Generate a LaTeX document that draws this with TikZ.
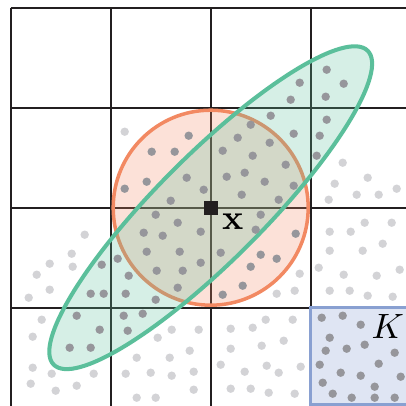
\documentclass[tikz,border=0pt]{standalone}
\usepackage{amsmath,amssymb}
\usepackage{xcolor}
\usepackage{tikz}
\definecolor{gridblack}{RGB}{35,31,32}
\definecolor{softorange}{RGB}{242,137,98}
\definecolor{softgreen}{RGB}{91,191,155}
\definecolor{softblue}{RGB}{137,160,209}
\definecolor{dotdark}{RGB}{150,150,155}
\definecolor{dotlight}{RGB}{211,211,214}

\begin{document}
\begin{tikzpicture}[
    gridline/.style={draw=gridblack, line width=0.6pt},
    ballset/.style={draw=softorange, fill=softorange, fill opacity=0.25, draw opacity=1, line width=1pt},
    ellset/.style={draw=softgreen, fill=softgreen, fill opacity=0.25, draw opacity=1, line width=1.15pt},
    cellset/.style={draw=softblue, fill=softblue, fill opacity=0.27, draw opacity=1, line width=0.9pt},
    indot/.style={fill=dotdark},
    outdot/.style={fill=dotlight},
    center/.style={fill=gridblack, minimum size=0.14cm, inner sep=0pt},
    lbl/.style={inner sep=0pt, font=\normalsize}
]
\useasboundingbox (-0.107,0.017) rectangle (3.953,4.077);

% -------- Grid of cells --------
\draw[gridline] (0,0) grid (4,4);

% -------- Ball, ellipse and cell K --------
\draw[ballset] (2,2) circle (0.975);
\draw[ellset, shift={(2,2)}, rotate=45] (0,0) ellipse (2.22 and 0.53);
\draw[cellset] (3,0.034) rectangle (4.1,1);

% -------- Samples outside the sets --------
\foreach \p in {(1.14,2.76),(3.32,2.45),(3.57,2.30),(3.24,2.24),(3.46,2.13),(3.68,2.13),
    (3.86,2.19),(3.18,2.08),(0.74,1.73),(0.61,1.54),(0.39,1.44),(0.62,1.41),(0.26,1.33),
    (0.39,1.18),(0.18,1.10),(0.31,0.88),(0.22,0.71),(1.47,0.70),(1.61,0.78),(1.88,0.78),
    (1.79,0.57),(1.26,0.50),(1.59,0.50),(0.22,0.40),(0.41,0.34),(0.83,0.34),(1.15,0.34),
    (1.40,0.35),(1.61,0.32),(1.83,0.36),(0.20,0.24),(0.66,0.22),(0.45,0.17),(1.83,0.18),
    (1.26,0.10),(1.45,0.10),(2.89,1.34),(2.66,1.14),(2.84,1.17),(3.19,1.76),(3.40,1.76),
    (3.54,1.85),(3.81,1.85),(3.72,1.64),(3.19,1.57),(3.52,1.57),(3.08,1.40),(3.33,1.33),
    (3.66,1.32),(3.89,1.38),(3.19,1.17),(3.39,1.17),(3.57,1.12),(3.82,1.11),(2.55,0.88),
    (2.82,0.88),(2.20,0.79),(2.42,0.80),(2.73,0.67),(2.20,0.59),(2.51,0.62),(2.10,0.43),
    (2.56,0.42),(2.34,0.36),(2.68,0.35),(2.90,0.41),(2.20,0.19),(2.40,0.19),(2.58,0.15),
    (2.84,0.14)}
  \fill[outdot] \p circle (0.042);

% -------- Samples inside the sets --------
\foreach \p in {(1.78,2.72),(1.41,2.56),(1.64,2.56),(1.14,2.19),(1.36,2.26),(1.76,2.30),
    (1.93,2.18),(1.60,2.07),(3.16,3.38),(2.89,3.25),(3.33,3.24),(2.80,3.08),(3.15,3.11),
    (2.60,2.92),(3.16,2.88),(2.40,2.83),(2.83,2.74),(2.27,2.70),(3.09,2.72),(2.59,2.65),
    (2.12,2.57),(2.42,2.52),(3.06,2.52),(2.75,2.43),(2.16,2.31),(2.34,2.35),(2.54,2.26),
    (2.83,2.22),(2.31,2.13),(2.68,2.08),(1.45,1.93),(1.67,1.85),(1.33,1.75),(1.52,1.72),
    (1.90,1.76),(1.36,1.56),(1.69,1.56),(1.90,1.45),(1.07,1.49),(0.91,1.43),(1.46,1.37),
    (1.72,1.37),(1.18,1.32),(1.67,1.20),(0.80,1.14),(0.93,1.14),(1.15,1.14),(1.45,1.08),
    (0.66,0.92),(1.13,0.92),(1.32,0.94),(0.89,0.78),(1.17,0.77),(0.59,0.60),(0.80,0.60),
    (2.50,1.93),(2.45,1.78),(2.85,1.74),(2.10,1.55),(2.50,1.53),(2.66,1.49),(2.40,1.41),
    (2.32,1.22),(2.12,1.13),
    (3.11,0.90),(3.32,0.92),(3.50,0.83),(3.19,0.70),(3.15,0.57),(3.36,0.59),(3.54,0.63),
    (3.84,0.55),(3.09,0.43),(3.30,0.35),(3.50,0.32),(3.68,0.44),(3.90,0.31),(3.12,0.25),
    (3.64,0.21),(3.22,0.14),(3.41,0.10),(3.64,0.10),(3.84,0.10)}
  \fill[indot] \p circle (0.042);

% -------- Query point and labels --------
\node[center] (xpt) at (2,2) {};
\node[lbl] (xlbl) at (2.22,1.86) {$\mathbf{x}$};
\node[lbl] (klbl) at (3.77,0.81) {$K$};

\end{tikzpicture}
\end{document}
